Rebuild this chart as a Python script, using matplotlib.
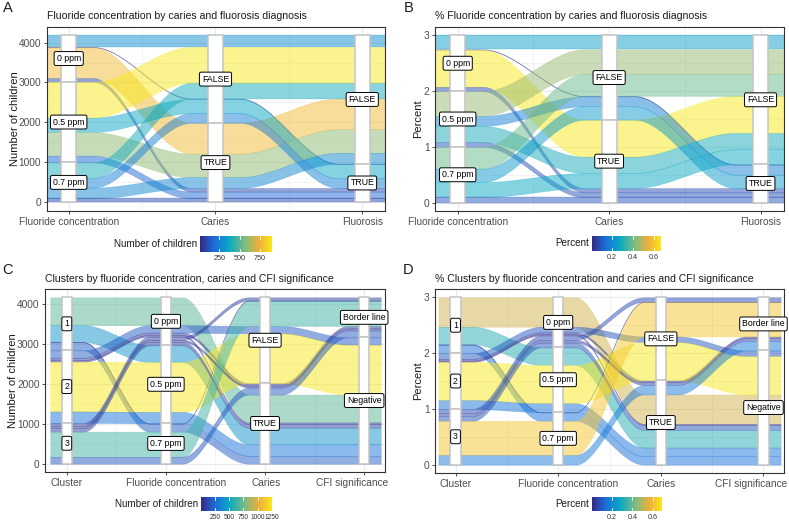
import numpy as np
import matplotlib.pyplot as plt
from matplotlib.colors import LinearSegmentedColormap, Normalize
from matplotlib.patches import Rectangle
from matplotlib.transforms import ScaledTranslation

plt.rcParams['font.family'] = ['Liberation Sans', 'DejaVu Sans']

W, H = 789, 523

# ---- fluoride x caries x fluorosis (panels A and B) ----
fl_levels = ["0 ppm", "0.5 ppm", "0.7 ppm"]
tf_levels = ["FALSE", "TRUE"]
ab_fluoride = ["0 ppm"] * 4 + ["0.5 ppm"] * 4 + ["0.7 ppm"] * 4
ab_caries = ["FALSE", "FALSE", "TRUE", "TRUE"] * 3
ab_fluorosis = ["FALSE", "TRUE", "FALSE", "TRUE"] * 3
ab_n = [290, 10, 770, 90, 900, 360, 590, 170, 390, 240, 270, 100]
ab_axes = ["Fluoride concentration", "Caries", "Fluorosis"]

# ---- cluster x fluoride x caries x CFI (panels C and D) ----
cl_levels = ["1", "2", "3"]
cfi_levels = ["Border line", "Negative"]
cd_cluster = ["1", "1", "1", "1", "2", "2", "2", "2", "2", "3", "3", "3", "3", "3"]
cd_fluoride = ["0 ppm", "0.5 ppm", "0.7 ppm", "0.7 ppm", "0 ppm", "0 ppm", "0 ppm", "0.5 ppm", "0.5 ppm",
               "0 ppm", "0 ppm", "0 ppm", "0.7 ppm", "0.7 ppm"]
cd_caries = ["TRUE", "TRUE", "TRUE", "FALSE", "FALSE", "TRUE", "TRUE", "FALSE", "TRUE",
             "FALSE", "TRUE", "TRUE", "FALSE", "TRUE"]
cd_cfi = ["Negative", "Negative", "Negative", "Border line", "Negative", "Border line", "Negative",
          "Negative", "Negative", "Border line", "Border line", "Negative", "Border line", "Border line"]
cd_n = [700, 420, 200, 10, 185, 60, 40, 1250, 285, 80, 50, 90, 630, 175]
cd_axes = ["Cluster", "Fluoride concentration", "Caries", "CFI significance"]


def share_within(groups, n):
    tot = {}
    for g, v in zip(groups, n):
        tot[g] = tot.get(g, 0) + v
    return [v / tot[g] for g, v in zip(groups, n)]


ab_pct = share_within(ab_fluoride, ab_n)
cd_pct = share_within(cd_cluster, cd_n)

parula = LinearSegmentedColormap.from_list(
    "parula", [(0.0, "#352A87"), (0.2, "#1C6FDB"), (0.4, "#09A8C5"), (0.62, "#7CBD80"),
               (0.82, "#F1AF3A"), (1.0, "#F8E81C")])


def zigzag(n, i):
    order = [i]
    left, right = i - 1, i + 1
    go_right = (n - 1 - i) <= i
    while len(order) < n:
        if go_right and right < n:
            order.append(right); right += 1
        elif not go_right and left >= 0:
            order.append(left); left -= 1
        elif right < n:
            order.append(right); right += 1
        else:
            order.append(left); left -= 1
        go_right = not go_right
    return order


def px_box(l, t, r, b):
    return [l / W, 1 - b / H, (r - l) / W, (b - t) / H]


def alluvial(ax, cols, levels, weights, norm, hw=1 / 6, sw=0.1):
    n_ax, m = len(cols), len(weights)
    total = sum(weights)
    lo = np.zeros((n_ax, m))
    hi = np.zeros((n_ax, m))
    for j in range(n_ax):
        order = zigzag(n_ax, j)
        idx = sorted(range(m), key=lambda a: tuple(levels[k].index(cols[k][a]) for k in order))
        top = total
        for a in idx:
            hi[j, a] = top
            lo[j, a] = top - weights[a]
            top -= weights[a]
    t = np.linspace(0, 1, 60)[1:-1]
    s = t * t * (3 - 2 * t)
    for a in range(m):
        xs, ylo, yhi = [], [], []
        for j in range(n_ax):
            xs += [j + 1 - hw, j + 1 + hw]
            ylo += [lo[j, a]] * 2
            yhi += [hi[j, a]] * 2
            if j < n_ax - 1:
                x0, x1 = j + 1 + hw, j + 2 - hw
                xs += list(x0 + (x1 - x0) * t)
                ylo += list(lo[j, a] + (lo[j + 1, a] - lo[j, a]) * s)
                yhi += list(hi[j, a] + (hi[j + 1, a] - hi[j, a]) * s)
        c = parula(norm(weights[a]))
        ax.fill_between(xs, ylo, yhi, facecolor=c, edgecolor=c, alpha=0.5, lw=0.3, zorder=2)
    for j in range(n_ax):
        for lev in levels[j]:
            mem = [a for a in range(m) if cols[j][a] == lev]
            y0 = min(lo[j, a] for a in mem)
            y1 = max(hi[j, a] for a in mem)
            ax.add_patch(Rectangle((j + 1 - sw / 2, y0), sw, y1 - y0, facecolor='white',
                                   edgecolor='#c4c4c4', lw=1.1, zorder=3))
            ax.text(j + 1, (y0 + y1) / 2, lev, ha='center', va='center', fontsize=6.3, zorder=4,
                    bbox=dict(boxstyle='round,pad=0.28,rounding_size=0.2', fc='white', ec='black', lw=0.7))
    return total


def style_axes(fig, ax, names, total, yticks, xlim, label_shift):
    n_ax = len(names)
    ax.set_xlim(*xlim)
    ax.set_ylim(-0.05 * total, 1.05 * total)
    ax.set_xticks(range(1, n_ax + 1))
    ax.set_xticklabels([])
    for i, (name, dx) in enumerate(zip(names, label_shift)):
        tr = ax.get_xaxis_transform() + ScaledTranslation(dx / 100, -4.2 / 72, fig.dpi_scale_trans)
        ax.text(i + 1, 0, name, transform=tr, ha='center', va='top', fontsize=7.3,
                color='#4d4d4d', clip_on=False)
    ax.set_xticks([i + 0.5 for i in range(1, n_ax)], minor=True)
    ax.set_yticks(yticks)
    ax.set_yticks([v + (yticks[1] - yticks[0]) / 2 for v in yticks[:-1]], minor=True)
    ax.grid(which='major', color='#ebebeb', lw=0.8)
    ax.grid(which='minor', color='#ebebeb', lw=0.4)
    ax.set_axisbelow(True)
    ax.tick_params(which='major', length=2.5, width=0.6, color='#333333', labelcolor='#4d4d4d',
                   labelsize=7.3, pad=1.5)
    ax.tick_params(which='minor', length=0)
    for sp in ax.spines.values():
        sp.set_color('#333333')
        sp.set_linewidth(0.8)


def colorbar(fig, box, norm, ticks, ticklabels, label, tsize):
    cax = fig.add_axes(px_box(*box))
    grad = np.linspace(norm.vmin, norm.vmax, 256).reshape(1, -1)
    cax.imshow(grad, cmap=parula, norm=norm, aspect='auto',
               extent=[norm.vmin, norm.vmax, 0, 1])
    for tk in ticks:
        cax.plot([tk, tk], [0, 0.2], color='white', lw=0.6)
        cax.plot([tk, tk], [0.8, 1], color='white', lw=0.6)
    cax.set_xlim(norm.vmin, norm.vmax)
    cax.set_ylim(0, 1)
    cax.set_yticks([])
    cax.set_xticks(ticks)
    cax.set_xticklabels(ticklabels)
    cax.tick_params(length=0, labelsize=tsize, labelcolor='#333333', pad=2)
    for sp in cax.spines.values():
        sp.set_visible(False)
    l, t, r, b = box
    fig.text((l - 3) / W, 1 - (t + b) / 2 / H, label, ha='right', va='center', fontsize=7.1,
             color='#1a1a1a')


fig = plt.figure(figsize=(W / 100, H / 100), dpi=100)

panels = [
    # letter, box, cols, levels, weights, axis names, yticks, ylabel, title,
    # colorbar box, colorbar ticks, tick labels, colorbar title, tick size, xlim, x label shifts
    ("A", (46.7, 27, 385, 210.7), [ab_fluoride, ab_caries, ab_fluorosis], [fl_levels, tf_levels, tf_levels],
     ab_n, ab_axes, [0, 1000, 2000, 3000, 4000], "Number of children",
     "Fluoride concentration by caries and fluorosis diagnosis", (200, 236, 272, 252),
     [250, 500, 750], ["250", "500", "750"], "Number of children", 5.2, (0.85, 3.155), [0, 0, 0]),
    ("B", (435, 27, 784, 211), [ab_fluoride, ab_caries, ab_fluorosis], [fl_levels, tf_levels, tf_levels],
     ab_pct, ab_axes, [0, 1, 2, 3], "Percent",
     "% Fluoride concentration by caries and fluorosis diagnosis", (592, 236, 661, 251),
     [0.2, 0.4, 0.6], ["0.2", "0.4", "0.6"], "Percent", 5.2, (0.85, 3.155), [0, 0, 0]),
    ("C", (45, 289, 385, 472), [cd_cluster, cd_fluoride, cd_caries, cd_cfi],
     [cl_levels, fl_levels, tf_levels, cfi_levels], cd_n, cd_axes, [0, 1000, 2000, 3000, 4000],
     "Number of children", "Clusters by fluoride concentration, caries and CFI significance",
     (201, 497, 272, 511), [250, 500, 750, 1000, 1250], ["250", "500", "750", "1000", "1250"],
     "Number of children", 4.8, (0.78, 4.21), [0, 10, 1, -12]),
    ("D", (435, 289, 784, 473), [cd_cluster, cd_fluoride, cd_caries, cd_cfi],
     [cl_levels, fl_levels, tf_levels, cfi_levels], cd_pct, cd_axes, [0, 1, 2, 3], "Percent",
     "% Clusters by fluoride concentration and caries and CFI significance", (592, 497, 662, 511),
     [0.2, 0.4, 0.6], ["0.2", "0.4", "0.6"], "Percent", 5.2, (0.80, 4.2), [0, 10, 0, -12]),
]

for (letter, box, cols, levels, weights, names, yticks, ylabel, title, cbox, cticks, clabels,
     ctitle, tsize, xlim, shifts) in panels:
    ax = fig.add_axes(px_box(*box))
    norm = Normalize(vmin=min(weights), vmax=max(weights))
    total = alluvial(ax, cols, levels, weights, norm)
    style_axes(fig, ax, names, total, yticks, xlim, shifts)
    l, t, r, b = box
    fig.text(l / W, 1 - (t - 10.5) / H, title, ha='left', va='center', fontsize=7.6, color='#1a1a1a')
    fig.text((l - 32) / W if l < 100 else (l - 17) / W, 1 - (t + b) / 2 / H, ylabel, rotation=90,
             ha='center', va='center', fontsize=8, color='#1a1a1a')
    lx = 7.5 if l < 100 else 408.5
    fig.text(lx / W, 1 - (t - 18.5) / H, letter, ha='center', va='center', fontsize=10.5,
             color='#1a1a1a')
    colorbar(fig, cbox, norm, cticks, clabels, ctitle, tsize)

fig.savefig("out.png", dpi=100)
